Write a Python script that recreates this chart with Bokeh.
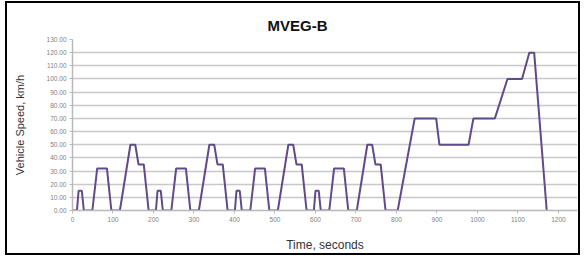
from bokeh.plotting import figure
from bokeh.models import Range1d, FixedTicker, NumeralTickFormatter
from bokeh.embed import file_html
from bokeh.resources import INLINE

# MVEG-B driving cycle, key points
time_s = [0, 11, 15, 23, 28, 49, 61, 85, 96, 117, 143, 155, 163, 176, 188, 195,
          206, 210, 218, 223, 244, 256, 280, 291, 312, 338, 350, 358, 371, 383, 390,
          401, 405, 413, 418, 439, 451, 475, 486, 507, 533, 545, 553, 566, 578, 585,
          596, 600, 608, 613, 634, 646, 670, 681, 702, 728, 740, 748, 761, 773, 780,
          803, 845, 898, 906, 978, 990, 1043, 1074, 1110, 1128, 1140, 1171]
speed_kmh = [0, 0, 15, 15, 0, 0, 32, 32, 0, 0, 50, 50, 35, 35, 0, 0,
             0, 15, 15, 0, 0, 32, 32, 0, 0, 50, 50, 35, 35, 0, 0,
             0, 15, 15, 0, 0, 32, 32, 0, 0, 50, 50, 35, 35, 0, 0,
             0, 15, 15, 0, 0, 32, 32, 0, 0, 50, 50, 35, 35, 0, 0,
             0, 70, 70, 50, 50, 70, 70, 100, 100, 120, 120, 0]

x_ticks = [0, 100, 200, 300, 400, 500, 600, 700, 800, 900, 1000, 1100, 1200]
y_ticks = [0, 10, 20, 30, 40, 50, 60, 70, 80, 90, 100, 110, 120, 130]
y_grid = [0, 10, 20, 30, 40, 50, 60, 70, 80, 90, 100, 110, 120]

title_text = "MVEG-B"
x_title = "Time, seconds"
y_title = "Vehicle Speed, km/h"

p = figure(width=575, height=254, output_backend="svg", toolbar_location=None,
           title=title_text,
           x_range=Range1d(0, 1247), y_range=Range1d(0, 130),
           min_border_left=65, min_border_right=5, min_border_top=36, min_border_bottom=47)
p.styles = {"border": "2px solid black", "margin-left": "5px", "margin-top": "1px"}
p.outline_line_color = None
p.background_fill_color = "white"
p.border_fill_color = "white"

p.title.align = "left"
p.title.offset = 195
p.title.standoff = 12
p.title.text_font = "Liberation Sans"
p.title.text_font_style = "bold"
p.title.text_font_size = "15px"
p.title.text_color = "#111111"

p.line(time_s, speed_kmh, line_color="#5f4a8b", line_width=2)

# axes
p.xaxis.ticker = FixedTicker(ticks=x_ticks)
p.yaxis.ticker = FixedTicker(ticks=y_ticks)
p.yaxis.formatter = NumeralTickFormatter(format="0.00")
for ax in (p.xaxis[0], p.yaxis[0]):
    ax.axis_line_color = "#b8b8b8"
    ax.axis_line_width = 1.5
    ax.major_tick_line_color = "#b8b8b8"
    ax.major_tick_in = 0
    ax.major_tick_out = 3
    ax.minor_tick_line_color = None
    ax.major_label_text_font = "Liberation Sans"
    ax.major_label_text_font_size = "6.5px"
    ax.major_label_text_color = "#808080"
    ax.major_label_standoff = 3
    ax.axis_label_text_font = "Liberation Sans"
    ax.axis_label_text_font_style = "normal"
    ax.axis_label_text_color = "#333333"

p.xaxis.axis_label = x_title
p.xaxis.axis_label_text_font_size = "12px"
p.xaxis.axis_label_standoff = 13
p.yaxis.axis_label = y_title
p.yaxis.axis_label_text_font_size = "11px"
p.yaxis.axis_label_standoff = 18

p.xgrid.visible = False
p.ygrid.ticker = FixedTicker(ticks=y_grid)
p.ygrid.grid_line_color = "#c8c8c8"
p.ygrid.grid_line_width = 1.5

open("out.html", "w").write(file_html(p, INLINE))
